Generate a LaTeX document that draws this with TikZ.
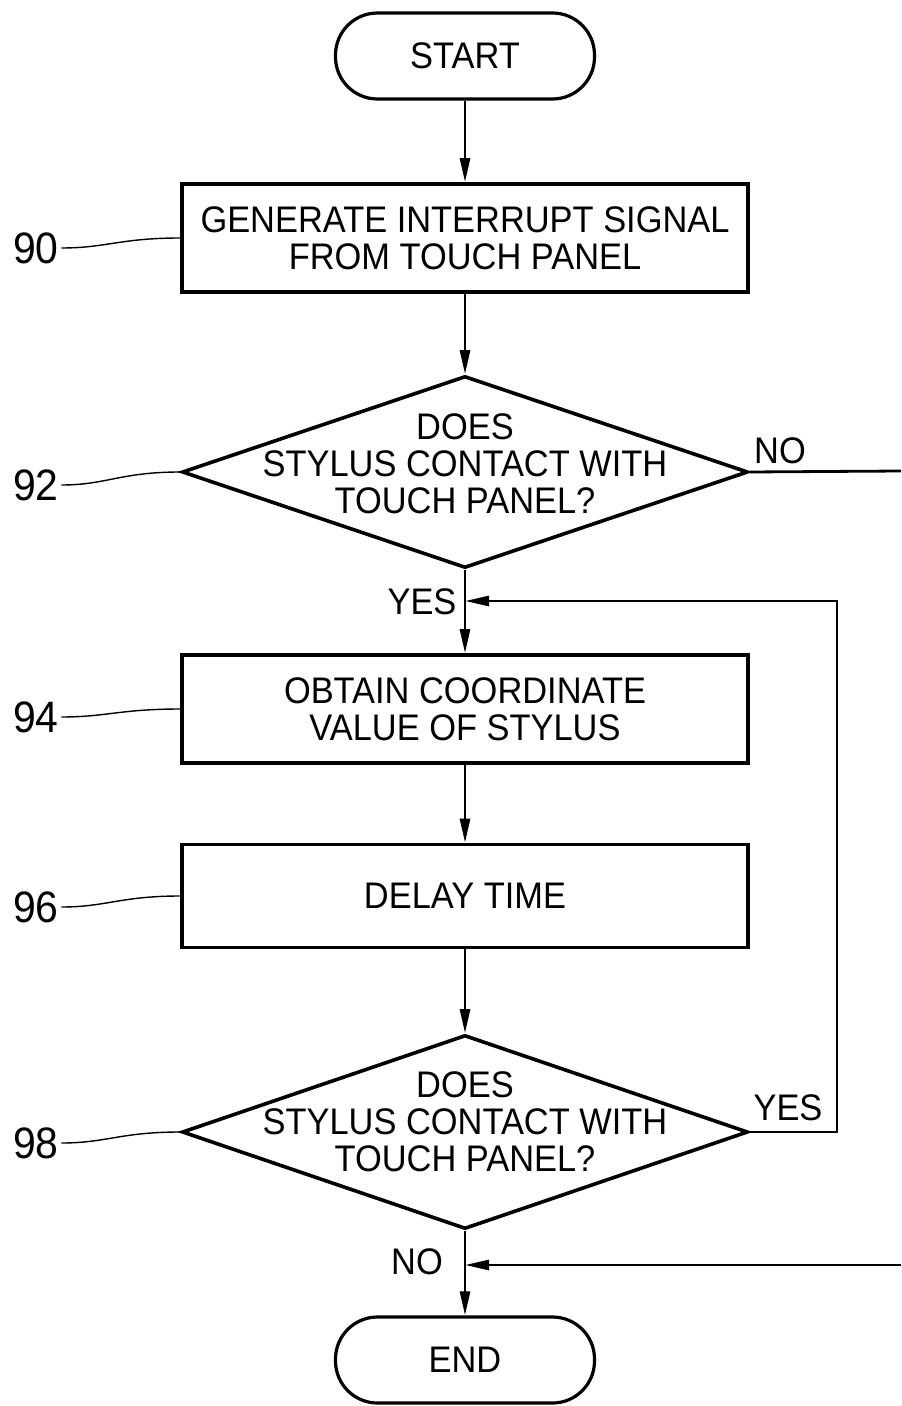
\documentclass[tikz,border=0pt]{standalone}
\usepackage{fontspec}
\setmainfont[FakeStretch=0.93]{Liberation Sans}
\usetikzlibrary{arrows.meta}
\usetikzlibrary{shapes.geometric}

\tikzset{
  proc/.style={draw, line width=1.8pt, minimum width=283pt, inner sep=0pt, align=center},
  term/.style={draw, line width=1.6pt, rounded corners=21pt, minimum width=129.5pt, minimum height=43pt, inner sep=0pt},
  decision/.style={draw, diamond, line width=1.8pt, minimum width=283pt, inner sep=0pt},
  flow/.style={line width=1.4pt, -{Triangle[length=12pt,width=5pt]}},
  lead/.style={line width=0.7pt},
  refnum/.style={font=\fontsize{22}{22}\selectfont, inner sep=1pt},
}

\begin{document}
\begin{tikzpicture} [x=0.5pt, y=-0.5pt, font=\fontsize{18.5}{18.5}\selectfont]

\useasboundingbox (0,0) rectangle (901,1406);

\node[term] (start) at (465,56) {START};
\node[proc, minimum height=54pt] (b90) at (465,238) {GENERATE INTERRUPT SIGNAL\\FROM TOUCH PANEL};
\node[decision, minimum height=96pt] (d92) at (465,472) {};
\node[align=center] (t92) at (465,464) {DOES\\STYLUS CONTACT WITH\\TOUCH PANEL?};
\node[proc, minimum height=54pt] (b94) at (465,709) {OBTAIN COORDINATE\\VALUE OF STYLUS};
\node[proc, minimum height=51.5pt] (b96) at (465,896) {DELAY TIME};
\node[decision, minimum height=97pt] (d98) at (465,1132) {};
\node[align=center] (t98) at (465,1122) {DOES\\STYLUS CONTACT WITH\\TOUCH PANEL?};
\node[term] (end) at (465,1360) {END};

\coordinate (j94) at (465,601);
\coordinate (jend) at (465,1265);
\coordinate (back) at (837,601);
\coordinate (noout) at (901,471);
\coordinate (noin) at (901,1265);

\draw[flow] (start) -- (b90);
\draw[flow] (b90) -- (d92);
\draw[flow] (d92) -- (b94);
\draw[flow] (b94) -- (b96);
\draw[flow] (b96) -- (d98);
\draw[flow] (d98) -- (end);
\draw[line width=1.4pt] (d92.east) -- (noout);
\draw[flow] (d98.east) -| (back) -- (j94);
\draw[flow] (noin) -- (jend);

\node (no92) at (780,451) {NO};
\node (yes92) at (422,602) {YES};
\node (yes98) at (788,1108) {YES};
\node (no98) at (417,1262) {NO};

\foreach \n/\y/\t in {90/248/b90, 92/485/d92, 94/717/b94, 96/907/b96, 98/1143/d98}
 \draw[lead] (36,\y) node[refnum] (n\n) {\n} (n\n.east) .. controls +(45,0) and +(-60,0) .. (\t.west);

\end{tikzpicture}
\end{document}
